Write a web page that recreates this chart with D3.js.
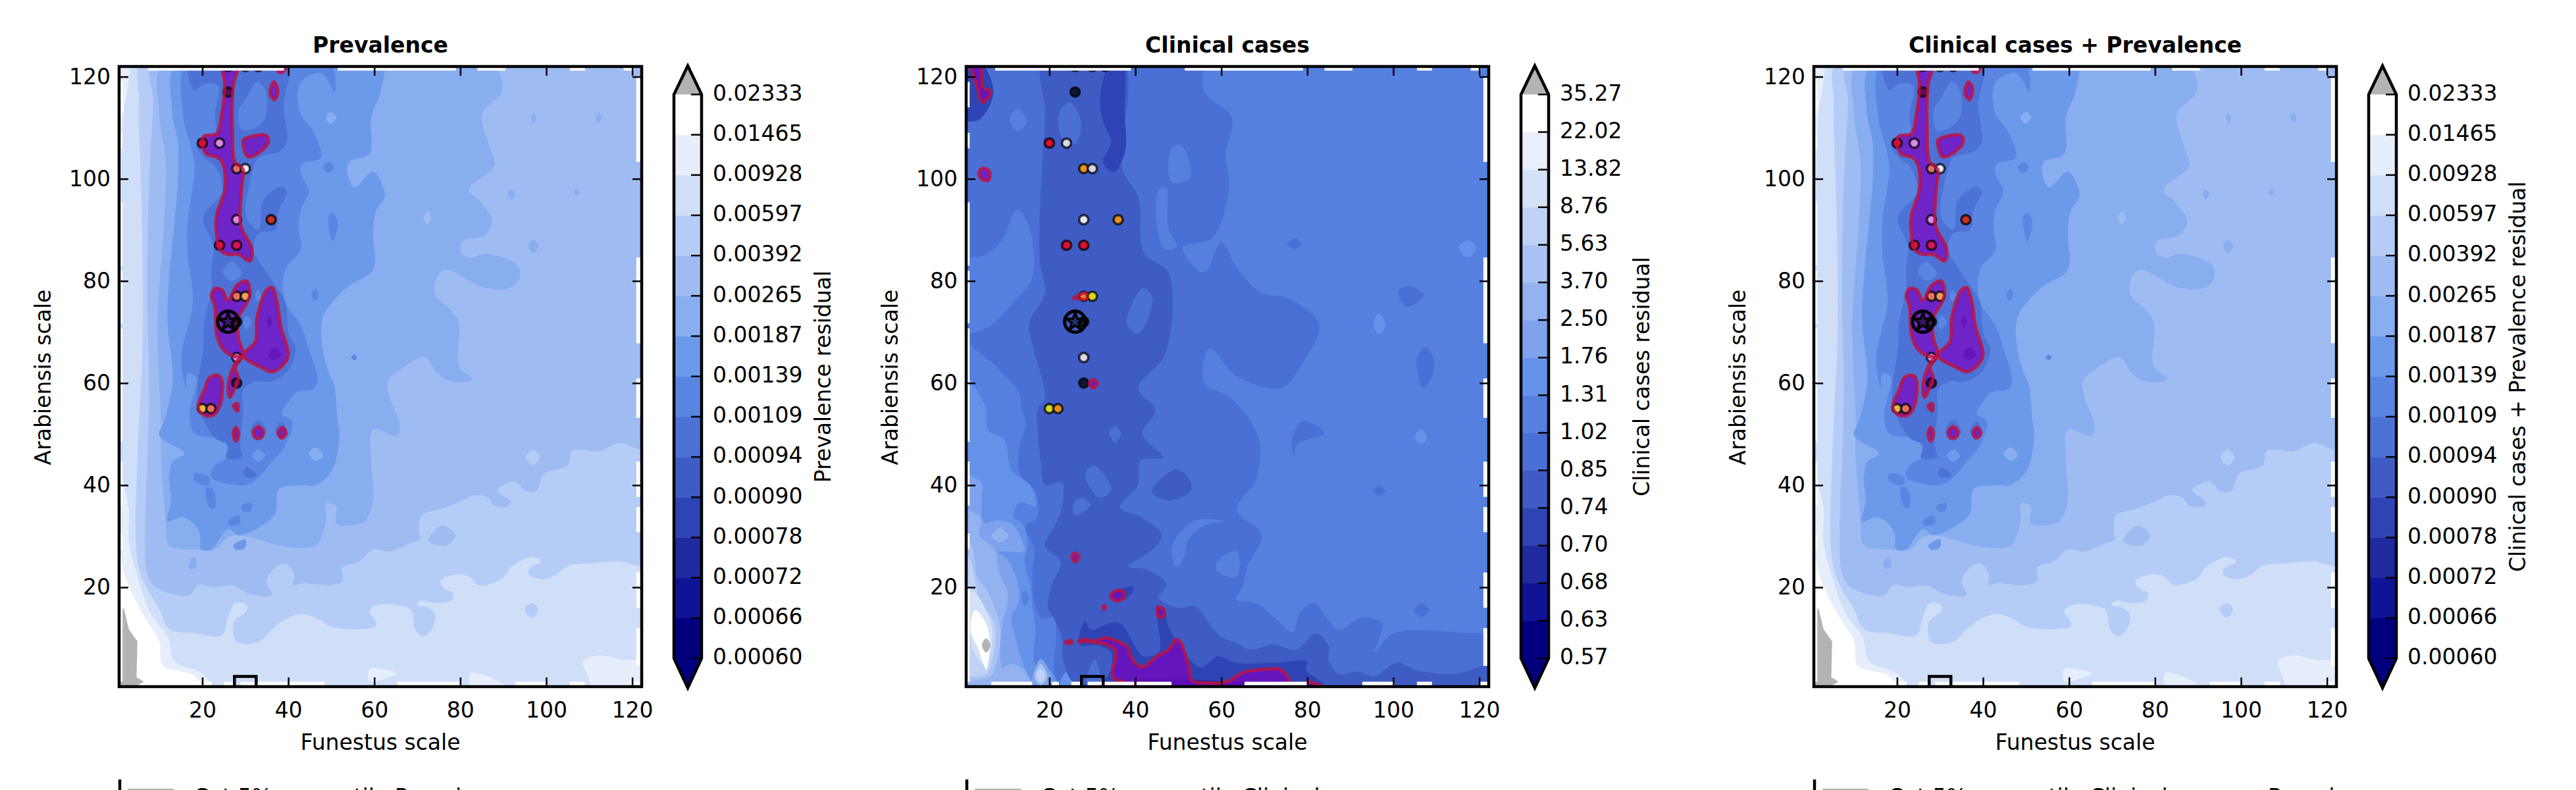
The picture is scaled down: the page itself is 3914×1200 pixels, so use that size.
<!DOCTYPE html>
<html><head><meta charset="utf-8">
<script src="https://cdnjs.cloudflare.com/ajax/libs/d3/7.8.5/d3.min.js"></script>
<style>html,body{margin:0;padding:0;background:#fff;overflow:hidden}svg{display:block}text{font-family:"DejaVu Sans";fill:#000}</style>
</head><body><svg id="c" width="3914" height="1200"></svg>
<script>
const xTicks=[20,40,60,80,100,120], yTicks=[20,40,60,80,100,120];
const prevalenceTicks=[0.00060,0.00066,0.00072,0.00078,0.00090,0.00094,0.00109,0.00139,0.00187,0.00265,0.00392,0.00597,0.00928,0.01465,0.02333];
const clinicalTicks=[0.57,0.63,0.68,0.70,0.74,0.85,1.02,1.31,1.76,2.50,3.70,5.63,8.76,13.82,22.02,35.27];
const sampleFunestus=[26,30,33,26,20,24,28,30,28,36,24,28,28,30,28,28,28,20,22];
const sampleArabiensis=[122,122,122,117,107,107,102,102,92,92,87,87,77,77,72,65,60,55,55];
const bestFit=[26,72], cutBox=[30,1];
const topGaps=[[7.4,39],[51.5,79],[84,90.5],[105.5,109],[118,120.3]];
const bottomGaps=[[6.5,16],[20.6,22.2],[25.1,27.2],[28.9,39.7],[40.1,48.4],[65.4,80],[92.8,100.3],[105.5,109],[120,122.2]];
const leftGaps=[[1.5,20],[27.5,30.5],[36,44.6],[48.5,70.7],[71.7,82],[83,95.4],[106,109],[114,119]];
const rightGaps=[[4.6,12],[16,22.9],[30.8,35.7],[37.7,44.6],[53.2,60.9],[67.8,84.6],[103.3,120]];

const prevalenceBands=[
[0.00928,[[0,123],[2.9,123],[2.5,117],[1.7,112.7],[1.1,91],[0.9,60],[0.8,44.6],[2.9,35.3],[2.9,29],[4.9,22],[8,14.9],[12,10.2],[13.5,5.5],[19.8,3.2],[22.1,0.5],[0,0]]],
[0.00928,[[108.6,5.5],[112.2,6.7],[116.9,5.9],[123,5.1],[123,0],[111.4,0],[109.4,3.2]]],
[0.00928,[[58.9,4],[61.3,4],[65.2,3.2],[58.9,1.6]]],
[0.00928,[[82.4,3.2],[85.5,2.8],[90.2,0.8],[82.4,0.8]]],
[0.01465,[[0,30],[1,26],[1.8,22.7],[4.1,18],[7.2,13.3],[10,9.4],[10.8,4.7],[17.8,2.8],[19.8,0.5],[0,0]]],
[0.01465,[[0,119],[1.4,116],[1.4,113],[0,111]]],
[0.00392,[[6.3,123],[123,123],[123,24.7],[116.9,25.1],[110.6,24.7],[105.1,24.2],[102,22.3],[99.2,21.6],[96.1,22.3],[95.9,23.5],[98.8,25.1],[96.5,25.9],[91.8,23.9],[90.2,22],[87.5,20.8],[84.4,20.4],[81.6,22.3],[77.7,22.3],[75.4,21.2],[76.6,19.6],[78.5,18.8],[77.7,17.3],[74.6,16.9],[70.7,17.3],[69.9,16.5],[72.2,16.1],[74.2,14.5],[73.4,11.8],[71.4,10.4],[69.5,11.8],[68.7,15.3],[67.5,16.1],[60.5,16.5],[58.9,15.3],[60.5,13],[60.1,12.2],[50.3,12.2],[47.2,13.7],[43.2,14.8],[39.3,13.7],[36.2,11.8],[33.1,9.3],[28,9.3],[27.4,13.3],[30.3,15.3],[30.3,16.5],[27.6,16.9],[26,14.1],[24.5,10.6],[18.2,11],[12.3,11.8],[10,15.7],[7.2,19.6],[5.3,23.5],[4.5,29],[4.9,44.6],[5.3,52.5],[6.1,68.1],[6.1,83.8],[5.7,99.4],[5.3,115.1]]],
[0.00392,[[95.1,16],[96.9,16.9],[98.1,15.7],[96.9,14.1],[95.3,14.9]]],
[0.00265,[[8.6,123],[123,123],[123,47.4],[116.9,48.2],[112.2,46.6],[107.5,47],[105.9,46.6],[105.1,43.9],[102.8,43.1],[99.6,42.3],[97.7,38.8],[95.3,38.8],[92.6,40.7],[88.7,39],[91.8,36.8],[91.4,35.9],[87.9,36],[86.3,37.6],[83.2,38],[80.1,36.8],[75.4,35.3],[71,34.1],[70.5,30.6],[70.7,29.4],[68.3,28.6],[63.6,27],[59.7,27.4],[56.6,25.1],[52.6,23.9],[52.6,21.2],[49.5,20.4],[43.2,20.8],[41.3,20.4],[41.3,22.7],[39.3,24.7],[37,23.9],[35,21.2],[36.2,18.4],[30.7,18.8],[26.8,20.4],[22.9,20],[19,20.4],[17,18.4],[9.2,20],[7.2,22.7],[6.8,36.8],[7.2,44.6],[7.6,60.3],[7.2,75.9],[7.6,99.4],[8.6,115.1]]],
[0.00392,[[95.3,45.4],[96.9,47],[98.5,45.4],[96.9,43.9]]],
[0.00265,[[72.6,29],[75.7,32.1],[78.9,30.2],[76.9,28.2]]],
[0.00187,[[11.2,123],[86.7,123],[89.8,117.4],[85.1,112.7],[86.7,106.5],[87.9,102.6],[82,97.9],[84.7,95.5],[87.5,91.6],[85.5,88.9],[80.4,87.7],[80.4,85.3],[82.4,84.6],[86.3,85.3],[93.4,83],[93.8,80.6],[91.8,78.7],[85.5,78.7],[76.9,82.2],[75,81.4],[74.2,77.5],[77.7,74.4],[79.7,72],[79.7,63.4],[82.8,60.7],[77.7,60.3],[74.6,61.9],[71.8,65],[66,62.6],[63.2,60.3],[63.6,57.2],[66,51.7],[65.2,49.7],[59.7,50.9],[59.3,44.6],[59.7,36.8],[57.7,32.9],[53.4,32.1],[51.1,32.5],[51.1,36],[48.9,36.4],[48.7,32.9],[46.4,28.2],[37.8,28.2],[33.1,29.4],[28.4,30.2],[26,29.8],[22.9,27.4],[19,27.4],[12.3,28.2],[11.5,32.1],[11.1,36.8],[10.4,44.6],[10.4,52.5],[9.6,72],[11.1,91.6],[11.5,103.3],[10,112.7]]],
[0.00187,[[91.8,97.9],[92.6,97.1],[91.8,95.9],[91,97.1]]],
[0.00187,[[95.9,86.7],[96.9,88.1],[98.2,86.9],[96.9,85.5]]],
[0.00187,[[96.5,112],[97.1,112.8],[97.7,111.9],[97.1,110.9]]],
[0.00187,[[111.5,112],[112.2,113],[112.9,112],[112.2,111]]],
[0.00187,[[107,98],[107.8,97.6],[107,96.8],[106.4,97.5]]],
[0.00187,[[17,25.1],[18.2,25.9],[18.6,23.9],[17,23.7]]],
[0.00265,[[71.4,92.4],[72.6,93.6],[73.2,92],[72.2,91.2]]],
[0.00139,[[14.3,123],[61.6,123],[61.6,117.4],[59.3,112],[58.9,104.9],[54.2,103.3],[53.8,101],[55.4,98.3],[59.7,101.4],[62,98.6],[62.4,96.3],[60.5,93.9],[59.7,90],[59.7,82.2],[54.2,79.1],[51.1,76.7],[48,72.8],[48,66.6],[49.5,61.9],[50.7,59.5],[51.5,52.5],[51.9,50.1],[50.3,43.1],[46.4,40],[43.2,40],[37.8,39.2],[37,34.5],[33.1,31.7],[28.4,30.2],[26,31.4],[22.1,27.4],[19.8,27.4],[19.4,30.6],[17.4,32.9],[15.1,33.7],[11.9,32.9],[12.7,36.8],[12.3,41.5],[13.1,44.6],[15.8,46.2],[10,49.7],[11.1,52.5],[13.1,60.3],[11.9,72],[12.3,80.6],[14.3,99.4],[14.3,107.2],[12.9,113.5]]],
[0.00187,[[48.7,112],[49.9,113.1],[51.2,112],[49.9,110.8]]],
[0.00187,[[44.8,46.2],[46.4,47.4],[48.1,45.8],[46.4,44.8]]],
[0.00109,[[16.6,123],[49.5,123],[50.7,117],[47.9,120.6],[44.8,120.2],[42.5,118.2],[42.9,112.7],[45.6,109.6],[47.6,104.1],[43.2,103],[42.9,101],[44.8,97.5],[42.9,93.9],[42.5,90],[42.9,86.1],[39.3,82.2],[39.3,75.9],[42.9,71.3],[44.8,66.6],[46.8,60.3],[45.6,58.7],[42.1,58.3],[40.1,56.4],[38.6,54],[40.9,52.5],[39.3,47.8],[36.2,44.6],[33.1,41.5],[30,40],[22.1,41.5],[22.9,43.9],[25.6,45.4],[25.2,48.6],[22.9,49.3],[18.2,50.1],[17,54],[18.6,61.1],[16.6,61.9],[16.2,59.1],[15.1,65],[17.8,75.9],[16.6,85.3],[16.6,91.6],[18.2,102.5],[17,107.2],[15.5,112.7]]],
[0.00109,[[49.4,92.8],[50.3,93.2],[51.5,91.6],[50.3,87.7],[49.5,90]]],
[0.00109,[[48.1,102.4],[49.5,103.3],[50.7,102.2],[49.1,101.1]]],
[0.00109,[[45.4,77.3],[46.4,78.5],[47,77.1],[46.2,76.1]]],
[0.00109,[[54.6,65],[55.4,65.6],[55.9,65],[55.4,64.5]]],
[0.00139,[[44.8,92],[46,93.2],[47,92],[46,90.6]]],
[0.00139,[[41.3,77.1],[42.1,77.9],[42.9,77],[42.1,76.2]]],
[0.00139,[[31.5,45.8],[33.1,47],[34.6,45.8],[33.1,44.6]]],
[0.00109,[[18.2,42.3],[21.7,41.5],[21.3,40],[18.2,40.8]]],
[0.00109,[[20.9,39.6],[22.5,39.2],[22.9,35.6],[21.7,35.6]]],
[0.00109,[[29.2,36],[31.5,36.4],[31.1,34.9],[29.5,34.9]]],
[0.00109,[[26,32.9],[28.4,34.1],[28.8,32.5],[26.4,32.1]]],
[0.00139,[[27.2,28.2],[30,29.4],[30,27.8],[28,27.3]]],
[0.00094,[[29.5,42.3],[30.3,43.5],[32.7,41.9],[30.3,41.5]]],
[0.00094,[[17,123],[39.7,123],[38.9,114.3],[39.7,107.2],[37.8,105.3],[33.1,104.1],[31.1,99.4],[30.3,92.4],[33.1,90],[34.2,95.9],[38.6,98.5],[39.7,97.5],[37.8,93.9],[37,90],[33.1,89.3],[31.9,86.1],[33.9,83],[37,79.1],[39.3,75.9],[40.1,69.7],[41.7,66.6],[40.1,62.6],[36.2,60.3],[32.3,60.3],[29.5,58.7],[29.5,54.8],[28.8,47.8],[29.2,45.4],[25.6,45.4],[26,47.8],[22.9,49.3],[19,55.6],[19,60.3],[20.2,66.6],[20.5,72],[22.1,78.3],[22.1,82.2],[22.5,86.9],[20.2,91.6],[20.5,93.2],[24.5,97.1],[24.5,99.4],[22.9,102.5],[20.5,104.1],[18.6,106.5],[20.2,108.4],[22.9,108.4],[22.9,112.7],[23.7,118.2],[20.5,118.6],[18.2,117.4]]],
[0.00094,[[31.2,50.6],[33,52.8],[35,50.6],[33,48.6]]],
[0.00094,[[37,50.5],[38.4,52.5],[39.8,50.5],[38.4,48.9]]],
[0.00109,[[28.5,113.5],[30.3,115.9],[32.7,119],[34.6,117.4],[34.6,112],[32.3,110],[29.2,109.6]]],
[0.00109,[[24.8,81.8],[26.8,83.8],[29.2,81.4],[26.8,80]]],
[0.00109,[[29.5,72],[30.3,73.2],[31.5,72],[30.3,70.5]]],
[0.00109,[[32.3,77.1],[32.9,78.3],[33.7,77.1],[32.9,75.9]]],
[0.00078,[[35,72],[35.6,73.2],[36.2,72],[35.6,70.9]]],
[0.00078,[[35.3,65.4],[36.8,67],[38.4,65.4],[36.2,64.6]]]
];
const prevalenceOver=[[0.8,16.3],[1.8,15.7],[2.9,11.8],[4.9,9.4],[4.7,2.4],[6.4,1.5],[4.1,0.4],[0.8,0.4]];
const prevalenceCut=[
[[24.9,122.5],[25.2,118.2],[24.5,112.7],[23.3,108.8],[20.5,108.4],[19.9,107.2],[20.9,104.9],[23.7,104.1],[24.9,102.6],[25.2,97.9],[23.3,92.8],[23.3,89.2],[24.1,86.1],[26,85.2],[28.4,85.2],[31.1,83.9],[31.5,86.5],[29.5,89.6],[28.8,91.6],[29.2,98.6],[29.5,101.8],[27.6,103.3],[27,109.6],[27.2,118.2],[28.2,122.5]],
[[29.5,107.6],[33.1,108.6],[35,108.4],[35.4,107.2],[33.5,105.3],[30.6,104.3],[29.5,106.5]],
[[35.8,117.4],[36.6,119],[37.6,117.4],[36.8,115.5],[35.8,116.6]],
[[37.4,122.5],[39.5,122.5],[38.8,120.9],[37.8,120.9]],
[[22.1,77.1],[22.9,78.5],[24.5,78.3],[26,76.2],[28,79.1],[30.3,80],[31.1,77.5],[30.3,75.6],[28.4,72.8],[28.4,68.9],[29.5,65.4],[26.8,65.4],[24.5,67],[23.3,69.7],[22.9,75.2]],
[[29.5,65.4],[32.3,68.1],[32.7,72.8],[35,78.3],[36.2,78.7],[37.4,75.9],[38.2,71.3],[40,65.4],[38.6,63.4],[36.2,62.2],[33.9,63]],
[[29.5,65.4],[27.6,63.8],[26,59.5],[26.4,57.2],[27.6,59.1],[28.4,61.1],[27.7,63]],
[[21.7,61.1],[23.7,61.5],[24.5,60.7],[24.1,55.6],[22.5,53.7],[20.5,53.7],[19,55.2],[20.5,58.7]],
[[27.2,55.6],[28.2,56],[28.2,54.5]],
[[27.2,50],[27.8,51.3],[28.5,50],[27.8,48.6]],
[[31.9,50.5],[33.1,51.5],[34.2,50.5],[33.7,49.3],[32.3,49.3]],
[[37.6,50.3],[38.6,51.3],[39.5,50.1],[38.4,49.2]]
];

const clinicalBands=[
[0.85,[[0,123],[54.7,123],[56,117],[62.4,112],[61,105],[61.7,98],[58,88.5],[51,86.5],[56,81.6],[60,87.5],[63.6,82.6],[69.4,77.6],[75,76.7],[82.7,71.7],[79,64],[73.8,59],[63.6,61.4],[57.3,66.8],[56,60],[62.4,57],[68.7,49],[68,41],[63.6,35.2],[69.4,30.3],[66,24],[65,20.2],[63.4,17.6],[68.3,16.8],[72.5,14],[76.6,11.2],[78.3,15],[81.6,17],[84,14.6],[87.4,11.6],[92.4,14],[97.4,12.9],[95.7,7.3],[100,11],[117.3,11],[123,10.3],[123,0],[21.6,0],[21,4],[21.6,11],[21,14],[18,14],[16.5,17.2],[16,22.4],[16.5,27.5],[14.5,31.8],[17,33.6],[16.8,38.7],[13.2,42],[13,47],[14.5,52.5],[13.5,55],[13,58],[8,63],[0,70]]],
[0.85,[[105.4,64.8],[107.5,67],[109.4,64.8],[108.8,60.9],[106.9,59.1],[105.7,61.9]]],
[0.85,[[101.2,78.1],[103.7,79],[107.1,77.2],[103.1,74.9]]],
[0.85,[[76.4,49],[78.9,52.5],[84,50.2],[77.6,48],[77,45.6]]],
[0.85,[[95.4,38.9],[96.8,40],[98.2,38.9],[96.8,37.9]]],
[0.85,[[75.3,87.3],[77,88.3],[78.6,87.3],[77,86.3]]],
[0.85,[[104.9,15.5],[106.5,16.8],[108.4,15.5],[106.5,14.1]]],
[1.02,[[12.5,94],[15.3,90.5],[16,80.6],[11.5,75.7],[5.8,71],[0,70],[0,84],[5,85],[9,88]]],
[1.02,[[10.8,111.7],[12.7,113.7],[14.7,111.2],[12.7,109.4]]],
[1.02,[[48.4,106],[50.7,106.5],[52.8,100.3],[48.4,99.4]]],
[1.02,[[45.2,97.4],[47.1,98.4],[47.7,90.5],[49.6,86.5],[46.5,86.5]]],
[1.02,[[48.7,28.4],[54.1,33.1],[61,32.9],[56.4,32.2],[52.3,29.3],[51.3,25.8],[49.5,23.9]]],
[1.02,[[59,25],[63.6,27.1],[63.6,22],[59,23.2]]],
[1.31,[[115.2,86.5],[117.3,88],[119.4,86.5],[117.3,84.6]]],
[1.31,[[95.4,71.7],[96.7,73.7],[98.2,71.2],[96.7,69.5]]],
[1.31,[[105,49.5],[106.5,51],[107.9,49.5],[106.5,48]]],
[1.31,[[0,62],[3.5,58],[5.3,55],[5.8,50.8],[9.4,49],[11.2,43],[15.5,40],[16.8,36],[12.9,36.6],[11.7,33.6],[13.5,32.7],[15,28.8],[14.2,25],[15.5,20.6],[16,16.3],[16.8,12],[16.8,4.7],[20.6,3.4],[21.6,0],[0,0]]],
[1.02,[[13.6,17.9],[14.4,19.5],[15.3,17.9],[14.4,16.3]]],
[1.76,[[0,46],[1.4,42.2],[4.2,40.5],[4.2,36.2],[4.8,32.7],[8,33.1],[11.4,32.3],[14,28.4],[14.2,27.1],[8,26.9],[10.4,25.4],[12.7,20.6],[12.9,17.2],[11.2,14.2],[12.2,9.9],[14,4.7],[16,0],[0,0]]],
[2.50,[[0,36],[1.5,35],[4,33.6],[3.8,30.1],[7.3,27.5],[8.3,23],[10.4,18.5],[8.9,12],[9.1,4.3],[11,5],[14,3.8],[15.8,0],[0,0]]],
[2.50,[[6.5,30],[8.5,31.6],[10.5,30],[8.5,28.8]]],
[3.70,[[0,30],[1.5,29],[2.7,25.4],[3,22.4],[5.5,19.4],[8.6,12],[7.8,5.6],[6.3,2.5],[2.2,1.7],[0,1]]],
[5.63,[[0,27],[1.4,25.8],[3,20],[3.5,18],[7.3,12.5],[6.8,6],[5.3,3],[1.4,2.5],[0,2.5]]],
[8.76,[[0,21],[1.4,19.4],[2.7,19],[6.5,12.5],[6,6],[4.8,4.8],[2.2,7.9],[1.4,11],[0,12]]],
[22.02,[[2.7,15.5],[5.5,12.5],[6,6.4],[5.3,4],[3.5,7.9],[1.7,11.6]]],
[1.76,[[16,1],[18,6],[20.5,2.5],[20,0.5]]],
[3.70,[[16.5,2.5],[18,5],[19.5,2.5],[18,0.8]]],
[5.63,[[17,2.8],[18,4],[19,2.8],[18,1.5]]],
[1.31,[[22.4,0.5],[24,3.4],[26,0.5]]],
[0.74,[[18.5,123],[37,123],[37,102],[40.7,96.4],[42,85.5],[47.7,81.6],[47,65.8],[40.7,59],[44.7,54.7],[41.6,50.4],[42.6,48.7],[46.5,45.4],[41.2,44.8],[40.6,40],[36.5,35.7],[41.6,33.6],[46.2,30.1],[43,26.7],[38.5,24.1],[43,23.4],[47.2,20.6],[45.4,18],[50,16],[53.9,16.3],[58,12],[60,10.3],[63.8,9],[66.7,7.8],[72.1,8.8],[77.5,7.8],[82,11],[85,8.4],[85,5.6],[87.4,3],[91.6,3.5],[95.7,2.6],[100.7,5.2],[105.7,3.7],[114,3],[123,4.6],[123,0],[27.5,0],[23.2,5.6],[22.9,10.3],[20.6,14.6],[19.6,16.1],[20.6,20.6],[22.7,25],[19,28],[21.1,31.9],[22.7,34.9],[22.9,40.5],[19,40],[18,44.4],[17.3,50.8],[17.3,55],[19,57],[16.6,65.8],[15.3,71.7],[19,77.6],[17.8,83.6],[17.8,93.4],[18.5,105.3],[19,113.2]]],
[0.74,[[43.9,39.2],[49.5,43.1],[52.8,40.9],[52.8,38.8],[48.2,37],[44.1,38.3]]],
[0.85,[[28.5,42.6],[30.3,43.9],[34.4,39.2],[31.8,37.5],[28.8,40.5]]],
[0.85,[[25.5,36.2],[27.3,37.5],[29.6,36.2],[26,34]]],
[0.85,[[33.9,50.4],[35.4,51.5],[36.7,50],[35.4,48.4]]],
[0.85,[[22.3,113],[24.8,115],[27.4,111],[26,106.8],[23,108]]],
[0.85,[[38,71.7],[41.8,78.6],[44,76.6],[40.7,69.7]]],
[0.85,[[28.8,1],[30.5,6],[32,1]]],
[0.70,[[34.4,123],[37,123],[37.5,113],[37.6,105.3],[35,101.3],[32.5,103.3],[34.4,107.2],[32.5,111.2],[31.8,116]]],
[0.70,[[0,123],[3.8,123],[7,117],[3.8,111.7],[0,111.7]]],
[0.70,[[26.8,9.7],[28.3,13.3],[29.7,11.6],[34.3,13.1],[36.8,12.7],[40.1,8.2],[41.8,6.5],[45.5,7.3],[45,14.2],[45,16.1],[46.7,16.1],[47.6,12.5],[51.7,6.9],[55,4.3],[57.1,5.2],[59.2,6.5],[63.4,5.2],[72.5,5.2],[80,5.4],[79.6,3.9],[84.1,0.5],[32.6,0.5],[34.3,3.9],[34.3,7.3],[31,8.6],[27.2,8.6]]],
[0.70,[[34.3,18.5],[36.8,19.8],[39.7,20],[37.6,17.6]]],
[0.68,[[40,0.5],[40,1.6],[62,1.6],[80,1.2],[84,0.5]]]
];
const clinicalOver=[[5.3,10],[6.3,8.7],[5.3,7.2],[4.3,8.7]];
const clinicalCut=[
[[26.8,9.4],[28,9.8],[30.3,9.5],[33.2,10.1],[34.9,9.7],[38,8.4],[39.5,5.6],[41.6,4.4],[45.2,6.6],[47.7,7.7],[49.5,9.8],[50.5,9.2],[52.3,4.9],[53.3,1.7],[56.4,1.3],[60,1.3],[62,1.7],[65,3.3],[71.7,4],[73.7,3.9],[75.8,1.4],[36.8,1.5],[34.7,2.6],[35.5,7.3],[34.3,8.4],[30.2,9.3]],
[[80,1.4],[84,0.3],[80,0.3]],
[[23.7,9.2],[25,9.6],[25.3,9.2],[24.6,9]],
[[34.2,18.3],[35.7,19.4],[37.2,19.1],[37.5,18.1],[35.7,17.3]],
[[45.2,16.1],[46.7,15.5],[46.7,14.4],[45.4,14.2]],
[[26,26.7],[26.9,25.9],[26,25],[25.2,25.9]],
[[32.6,16.4],[33.1,16.1],[32.6,15.7]],
[[2,122.5],[3.8,122.5],[4.5,118],[6.4,117],[4.5,115],[3.2,118]],
[[4.6,102.1],[6.1,101.4],[5.8,99.7],[4.1,100],[3.6,101.3]],
[[25.5,76.6],[28.5,77.6],[28.7,76.5],[26,76.6]],
[[30.2,60.7],[31.2,60],[30.2,59],[29.3,60]]
];
const combinedBands=prevalenceBands, combinedOver=prevalenceOver, combinedCut=prevalenceCut;

// styles
const ramp14=["#00007f","#0f1496","#1e2a9e","#2e44b4","#3f5cc4","#4d72d6","#5a86e2","#6c9aea","#88aef0","#9fbcf2","#b5cdf6","#cfdff8","#e7eefb","#ffffff"];
const ramp15=["#00007f","#0f1496","#1e2a9e","#2e44b4","#3f5cc4","#4a70d6","#5580e0","#6492e8","#7ea2ec","#92b2f0","#a8c2f3","#bfd2f6","#d4e2f8","#e8eefb","#ffffff"];
const overColor="#b3b3b3";
const tintedFills=["#e8e020","#e8e020","#f04020","#50105a","#e8103c","#dd88ee","#e07070","#eaeaf2","#dd88ee","#c83020","#e8104a","#e01060","#e87060","#e8a060","#40105a","#e090f0","#50105a","#e0c040","#e87060"];
const plainFills=["#d8d820","#d8d820","#e8402a","#101838","#e01030","#d8d8e8","#e89020","#d8d8e8","#e8e8f4","#e89020","#e01030","#e01030","#e89020","#d8d820","#101838","#d8d8e8","#101838","#d8d820","#e89020"];

const panels=[
 {title:"Prevalence",label:"Prevalence residual",legend:"Cut 5% percentile Prevalence",left:181,ticks:prevalenceTicks,fmt:d3.format(".5f"),ramp:ramp14,base:0.00597,bands:prevalenceBands,over:prevalenceOver,cut:prevalenceCut,fills:tintedFills,labelDx:226},
 {title:"Clinical cases",label:"Clinical cases residual",legend:"Cut 5% percentile Clinical",left:1468,ticks:clinicalTicks,fmt:d3.format(".2f"),ramp:ramp15,base:1.02,bands:clinicalBands,over:clinicalOver,cut:clinicalCut,fills:plainFills,labelDx:183},
 {title:"Clinical cases + Prevalence",label:"Clinical cases + Prevalence residual",legend:"Cut 5% percentile Clinical cases + Prevalence",left:2756,ticks:prevalenceTicks,fmt:d3.format(".5f"),ramp:ramp14,base:0.00597,bands:combinedBands,over:combinedOver,cut:combinedCut,fills:tintedFills,labelDx:226}
];

const W=794,TOP=101,BOTTOM=1043,FS=33;
const svg=d3.select("#c");
const defs=svg.append("defs");
const smooth=d3.curveCatmullRomClosed.alpha(0.5);

panels.forEach((p,i)=>{
 const L=p.left,R=L+W;
 const x=d3.scaleLinear([0.65,122.2],[L,R]);
 const y=d3.scaleLinear([0.54,122],[BOTTOM,TOP]);
 const band=d3.scaleOrdinal(p.ticks.slice(0,-1),p.ramp);
 const g=svg.append("g");
 defs.append("clipPath").attr("id","clip"+i).append("rect").attr("x",L).attr("y",TOP).attr("width",W).attr("height",BOTTOM-TOP);
 const plot=g.append("g").attr("clip-path",`url(#clip${i})`);
 const line=d3.line().x(d=>x(d[0])).y(d=>y(d[1])).curve(smooth);
 const poly=d3.line().x(d=>x(d[0])).y(d=>y(d[1])).curve(d3.curveLinearClosed);
 plot.append("rect").attr("x",L).attr("y",TOP).attr("width",W).attr("height",BOTTOM-TOP).attr("fill",band(p.base));
 plot.selectAll("path.band").data(p.bands).join("path").attr("class","band")
   .attr("d",d=>line(d[1])).attr("fill",d=>band(d[0]));
 plot.append("path").attr("d",(i==1?line:poly)(p.over)).attr("fill",overColor);
 plot.selectAll("path.cutf").data(p.cut).join("path").attr("class","cutf")
   .attr("d",line).attr("fill","#7f00c0").attr("fill-opacity",0.68);
 plot.selectAll("circle.s").data(sampleFunestus).join("circle").attr("class","s")
   .attr("cx",d=>x(d)).attr("cy",(d,k)=>y(sampleArabiensis[k])).attr("r",7)
   .attr("fill",(d,k)=>p.fills[k]).attr("stroke","#000").attr("stroke-opacity",0.72).attr("stroke-width",3.6);
 plot.selectAll("path.cuts").data(p.cut).join("path").attr("class","cuts")
   .attr("d",line).attr("fill","none").attr("stroke","#c0123c").attr("stroke-opacity",0.8).attr("stroke-width",5);
 const gapRects=[];
 topGaps.forEach(a=>gapRects.push([x(a[0]),TOP,x(a[1])-x(a[0]),y(121.2)-TOP]));
 bottomGaps.forEach(a=>gapRects.push([x(a[0]),y(1.5),x(a[1])-x(a[0]),BOTTOM-y(1.5)]));
 leftGaps.forEach(a=>gapRects.push([L,y(a[1]),x(1.45)-L,y(a[0])-y(a[1])]));
 rightGaps.forEach(a=>gapRects.push([x(120.95),y(a[1]),R-x(120.95),y(a[0])-y(a[1])]));
 plot.selectAll("rect.gap").data(gapRects).join("rect").attr("class","gap")
   .attr("x",d=>d[0]).attr("y",d=>d[1]).attr("width",d=>d[2]).attr("height",d=>d[3]).attr("fill","#fff");
 const sx=x(bestFit[0]),sy=y(bestFit[1]);
 plot.append("circle").attr("cx",sx).attr("cy",sy).attr("r",16).attr("fill","none").attr("stroke","#000").attr("stroke-width",5);
 plot.append("path").attr("d",d3.symbol(d3.symbolStar,230)()).attr("transform",`translate(${sx},${sy})`)
   .attr("fill","#000").attr("fill-opacity",0.45).attr("stroke","#000").attr("stroke-width",3.5);
 plot.append("rect").attr("x",x(cutBox[0])-16.5).attr("y",1027.5).attr("width",33).attr("height",40)
   .attr("fill","none").attr("stroke","#000").attr("stroke-width",4.5);
 const tickW=2.5,tickL=14;
 const axB=g.append("g").attr("transform",`translate(0,${BOTTOM})`).call(d3.axisBottom(x).tickValues(xTicks).tickSize(-tickL).tickPadding(22));
 const axT=g.append("g").attr("transform",`translate(0,${TOP})`).call(d3.axisTop(x).tickValues(xTicks).tickSize(-tickL).tickFormat(""));
 const axL=g.append("g").attr("transform",`translate(${L},0)`).call(d3.axisLeft(y).tickValues(yTicks).tickSize(-tickL).tickPadding(13));
 const axR=g.append("g").attr("transform",`translate(${R},0)`).call(d3.axisRight(y).tickValues(yTicks).tickSize(-tickL).tickFormat(""));
 [axB,axT,axL,axR].forEach(a=>{a.select(".domain").remove();a.selectAll("line").attr("stroke","#000").attr("stroke-width",tickW);
   a.selectAll("text").attr("font-family","DejaVu Sans").attr("font-size",FS).attr("fill","#000");});
 axB.selectAll("text").attr("dy",null).attr("dominant-baseline","hanging");
 g.append("rect").attr("x",L).attr("y",TOP).attr("width",W).attr("height",BOTTOM-TOP).attr("fill","none").attr("stroke","#000").attr("stroke-width",4.5);
 g.append("text").attr("x",L+W/2).attr("y",80).attr("text-anchor","middle").attr("font-weight","bold").attr("font-size",FS).text(p.title);
 g.append("text").attr("x",L+W/2).attr("y",1139).attr("text-anchor","middle").attr("font-size",FS).text("Funestus scale");
 g.append("text").attr("transform",`translate(${L-104},${(TOP+BOTTOM)/2+1}) rotate(-90)`).attr("text-anchor","middle").attr("font-size",FS).text("Arabiensis scale");
 g.append("line").attr("x1",L+1).attr("x2",L+1).attr("y1",1184).attr("y2",1200).attr("stroke","#000").attr("stroke-width",4.5);
 g.append("rect").attr("x",L+13).attr("y",1198).attr("width",70).attr("height",30).attr("fill",overColor);
 g.append("text").attr("x",L+113).attr("y",1222).attr("font-size",FS).text(p.legend);
 const cL=L+843,cW=42,cTop=143.5,cBot=1000;
 const n=p.ticks.length-1;
 const cy=d3.scaleLinear([0,n],[cBot,cTop]);
 const cb=g.append("g");
 cb.selectAll("rect").data(p.ticks.slice(0,-1)).join("rect")
  .attr("x",cL).attr("width",cW).attr("y",(d,k)=>cy(k+1)).attr("height",(cBot-cTop)/n+0.5).attr("fill",d=>band(d));
 cb.append("path").attr("d",`M${cL},${cTop}L${cL+cW/2},100L${cL+cW},${cTop}Z`).attr("fill",overColor);
 cb.append("path").attr("d",`M${cL},${cBot}L${cL+cW/2},1045L${cL+cW},${cBot}Z`).attr("fill",p.ramp[0]);
 cb.selectAll("line").data(p.ticks).join("line").attr("x1",cL+cW-16).attr("x2",cL+cW).attr("y1",(d,k)=>cy(k)).attr("y2",(d,k)=>cy(k)).attr("stroke","#000").attr("stroke-width",2.5);
 cb.append("path").attr("d",`M${cL},${cTop}L${cL+cW/2},100L${cL+cW},${cTop}L${cL+cW},${cBot}L${cL+cW/2},1045L${cL},${cBot}Z`).attr("fill","none").attr("stroke","#000").attr("stroke-width",4.5);
 cb.selectAll("text").data(p.ticks).join("text").attr("x",cL+59).attr("y",(d,k)=>cy(k)).attr("dy","0.28em").attr("font-size",FS).text(d=>p.fmt(d));
 g.append("text").attr("transform",`translate(${cL+p.labelDx+12},572) rotate(-90)`).attr("text-anchor","middle").attr("font-size",FS).text(p.label);
});
</script></body></html>
